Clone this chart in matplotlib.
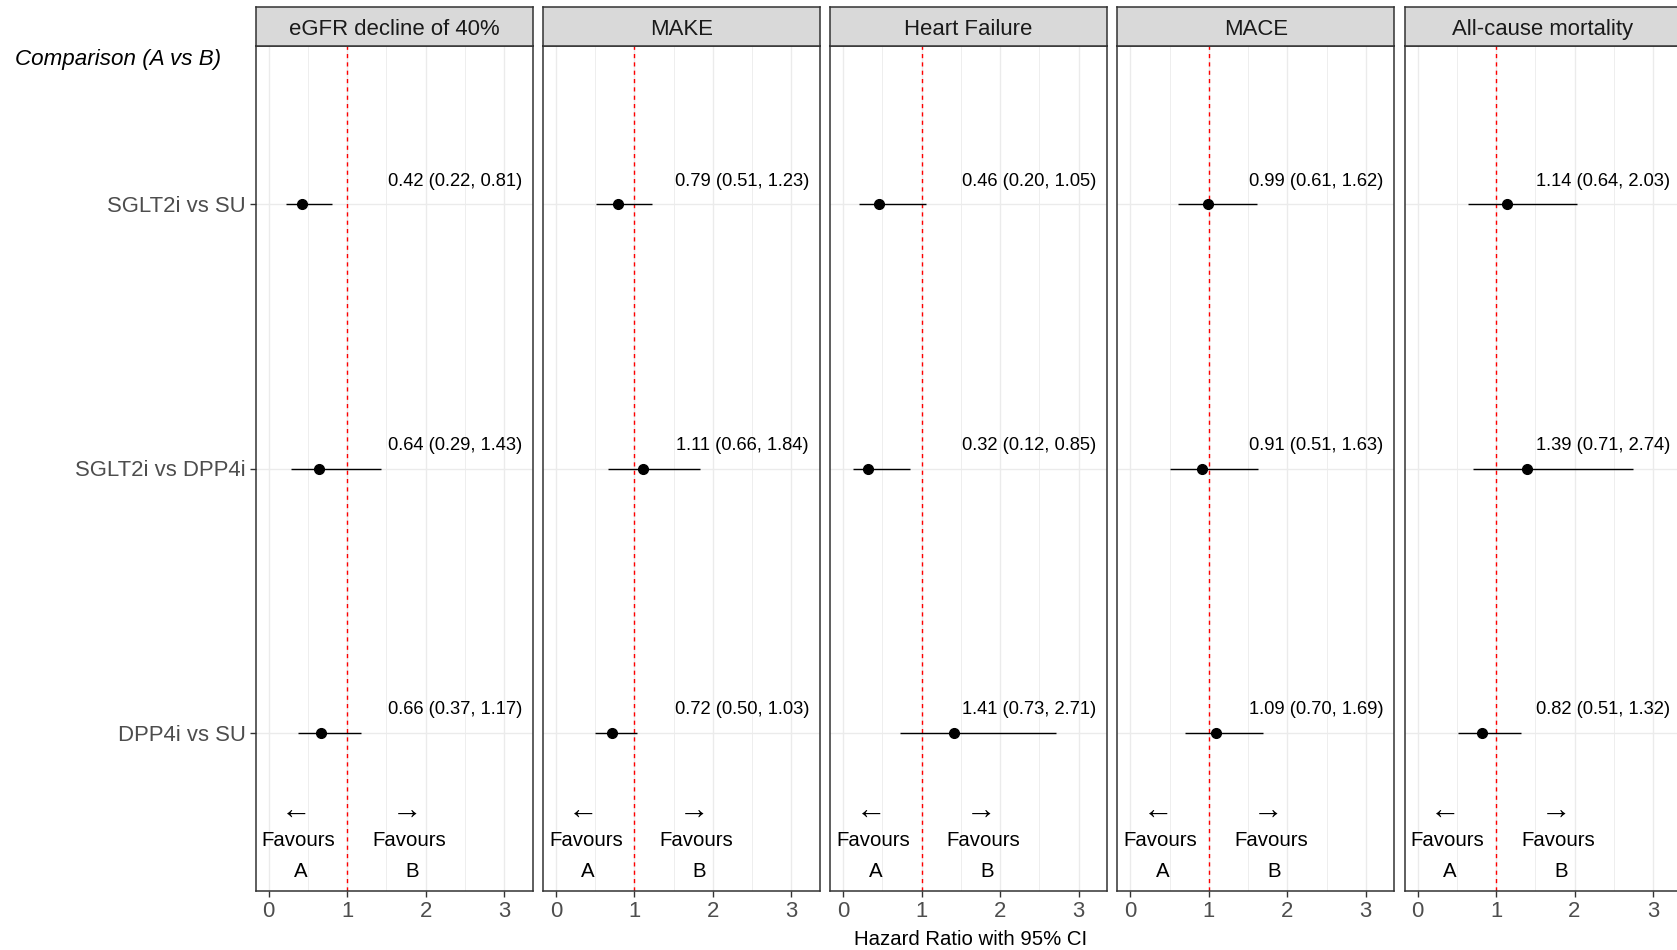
import matplotlib
matplotlib.use("Agg")
import matplotlib.pyplot as plt

plt.rcParams['font.family'] = ['Liberation Sans', 'DejaVu Sans']

# Outcomes (facets), comparisons (rows, top to bottom) and hazard ratios with 95% CI
outcomes = ["eGFR decline of 40%", "MAKE", "Heart Failure", "MACE", "All-cause mortality"]
comparisons = ["SGLT2i vs SU", "SGLT2i vs DPP4i", "DPP4i vs SU"]
hr = [
    [0.42, 0.64, 0.66],
    [0.79, 1.11, 0.72],
    [0.46, 0.32, 1.41],
    [0.99, 0.91, 1.09],
    [1.14, 1.39, 0.82],
]
ci_lower = [
    [0.22, 0.29, 0.37],
    [0.51, 0.66, 0.50],
    [0.20, 0.12, 0.73],
    [0.61, 0.51, 0.70],
    [0.64, 0.71, 0.51],
]
ci_upper = [
    [0.81, 1.43, 1.17],
    [1.23, 1.84, 1.03],
    [1.05, 0.85, 2.71],
    [1.62, 1.63, 1.69],
    [2.03, 2.74, 1.32],
]
x_ticks = [0, 1, 2, 3]
x_minor = [0.5, 1.5, 2.5]

W, H = 1677, 950
fig = plt.figure(figsize=(W / 100, H / 100), dpi=100)
fig.patch.set_facecolor("white")

border = "#333333"
grid_col = "#EBEBEB"
tick_txt = "#4D4D4D"

panel_left0 = 255.7
panel_step = 287.2
panel_w = 277.0
panel_top = 46.0
panel_bottom = 891.0
strip_top = 7.0

y_pos = [3, 2, 1]

for i, name in enumerate(outcomes):
    left = panel_left0 + i * panel_step
    ax = fig.add_axes([left / W, (H - panel_bottom) / H, panel_w / W,
                       (panel_bottom - panel_top) / H])
    ax.set_xlim(-0.166, 3.363)
    ax.set_ylim(0.4, 3.6)
    ax.set_xticks(x_ticks)
    ax.set_xticks(x_minor, minor=True)
    ax.set_yticks(y_pos)
    ax.set_axisbelow(True)
    ax.grid(which="major", color=grid_col, lw=1.0)
    ax.grid(which="minor", axis="x", color=grid_col, lw=0.6)
    for sp in ax.spines.values():
        sp.set_color(border)
        sp.set_linewidth(1.1)
    ax.tick_params(which="major", direction="out", length=4.2, width=1.0,
                   color=border, labelcolor=tick_txt, labelsize=15.9, pad=3)
    ax.tick_params(which="minor", length=0)
    if i == 0:
        ax.set_yticklabels(comparisons)
    else:
        ax.tick_params(axis="y", length=0, labelleft=False)

    ax.axvline(1, color="red", ls=(0, (3, 3)), lw=1.0, zorder=2)

    ax.hlines(y_pos, ci_lower[i], ci_upper[i], color="black", lw=1.0, zorder=3)
    ax.plot(hr[i], y_pos, "o", color="black", ms=7.0, zorder=4)

    for y, h, lo, up in zip(y_pos, hr[i], ci_lower[i], ci_upper[i]):
        ax.text(2.37, y + 0.086, f"{h:.2f} ({lo:.2f}, {up:.2f})",
                ha="center", va="center", fontsize=13.2, color="black")

    ax.text(0.35, 0.698, "\u2190", ha="center", va="center", fontsize=22)
    ax.text(0.38, 0.593, "Favours", ha="center", va="center", fontsize=14.7)
    ax.text(0.41, 0.472, "A", ha="center", va="center", fontsize=14.7)
    ax.text(1.76, 0.698, "\u2192", ha="center", va="center", fontsize=22)
    ax.text(1.79, 0.593, "Favours", ha="center", va="center", fontsize=14.7)
    ax.text(1.83, 0.472, "B", ha="center", va="center", fontsize=14.7)

    # facet strip
    sax = fig.add_axes([left / W, (H - panel_top) / H, panel_w / W,
                        (panel_top - strip_top) / H])
    sax.set_facecolor("#D9D9D9")
    sax.set_xticks([])
    sax.set_yticks([])
    for sp in sax.spines.values():
        sp.set_color(border)
        sp.set_linewidth(1.1)
    sax.text(0.5, 0.42, name, ha="center", va="center", fontsize=15.9,
             color="#1A1A1A", transform=sax.transAxes)

fig.text(15 / W, 1 - 60 / H, "Comparison (A vs B)", style="italic",
         fontsize=16.1, ha="left", va="center", color="black")
fig.text(970.2 / W, 1 - 939.5 / H, "Hazard Ratio with 95% CI",
         ha="center", va="center", fontsize=14.7, color="black")

fig.savefig("out.png", dpi=100)
